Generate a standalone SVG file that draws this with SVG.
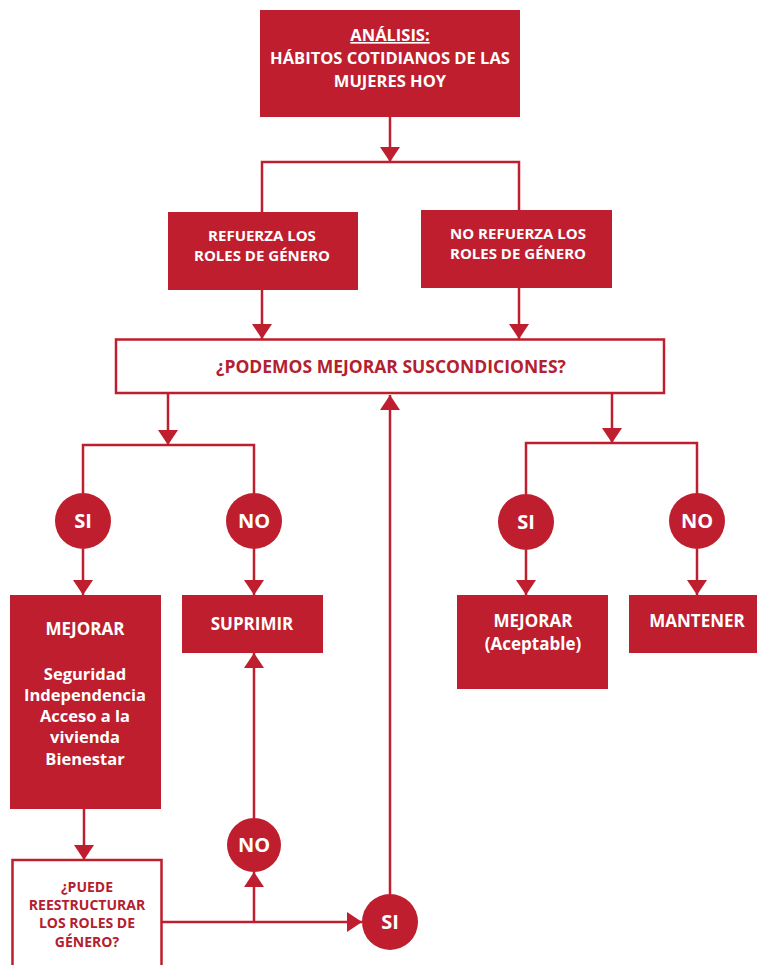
<svg xmlns="http://www.w3.org/2000/svg" width="757" height="965" viewBox="0 0 757 965">
<defs>
<marker id="arr" viewBox="0 0 15 20" refX="15" refY="10" markerWidth="15" markerHeight="20" orient="auto" markerUnits="userSpaceOnUse">
<path d="M0,0 L15,10 L0,20 z" fill="#be1e2d"/>
</marker>
</defs>
<style>
.fill{fill:#be1e2d;}
.outline{fill:#ffffff;stroke:#be1e2d;stroke-width:2.5;}
.wt{fill:#ffffff;font-family:"Open Sans","Liberation Sans",sans-serif;font-weight:bold;text-anchor:middle;}
.rt{fill:#b3202e;font-family:"Open Sans","Liberation Sans",sans-serif;font-weight:bold;text-anchor:middle;}
.ln{fill:none;stroke:#be1e2d;stroke-width:2.5;}
.la{fill:none;stroke:#be1e2d;stroke-width:2.5;marker-end:url(#arr);}
</style>
<rect width="757" height="965" fill="#ffffff"/>
<g id="connectors">
<line class="la" x1="390" y1="117" x2="390" y2="162"/>
<polyline class="ln" points="262,212 262,162 519,162 519,210"/>
<line class="la" x1="262" y1="290" x2="262" y2="339"/>
<line class="la" x1="519" y1="288" x2="519" y2="339"/>
<line class="la" x1="168" y1="393" x2="168" y2="445"/>
<polyline class="ln" points="83,493 83,445 254,445 254,493"/>
<line class="la" x1="612" y1="393" x2="612" y2="443"/>
<polyline class="ln" points="526,494 526,443 697,443 697,494"/>
<line class="la" x1="83" y1="549" x2="83" y2="595"/>
<line class="la" x1="254" y1="549" x2="254" y2="595"/>
<line class="la" x1="526" y1="550" x2="526" y2="595"/>
<line class="la" x1="697" y1="549" x2="697" y2="595"/>
<line class="la" x1="84" y1="809" x2="84" y2="860"/>
<line class="la" x1="162" y1="922" x2="362" y2="922"/>
<line class="la" x1="254" y1="922" x2="254" y2="872"/>
<line class="la" x1="254" y1="818" x2="254" y2="653"/>
<line class="la" x1="390" y1="894" x2="390" y2="395"/>
</g>
<g id="analisis">
<rect class="fill" x="260" y="10" width="260" height="107"/>
<text class="wt" x="390" y="41" font-size="16.5" text-decoration="underline">ANÁLISIS:</text>
<text class="wt" x="390" y="64" font-size="16.5">HÁBITOS COTIDIANOS DE LAS</text>
<text class="wt" x="390" y="87" font-size="16.5">MUJERES HOY</text>
</g>
<g id="refuerza">
<rect class="fill" x="168" y="212" width="190" height="78"/>
<text class="wt" x="262" y="241" font-size="15">REFUERZA LOS</text>
<text class="wt" x="262" y="261" font-size="15">ROLES DE GÉNERO</text>
</g>
<g id="no-refuerza">
<rect class="fill" x="421" y="210" width="191" height="78"/>
<text class="wt" x="518" y="239" font-size="15">NO REFUERZA LOS</text>
<text class="wt" x="518" y="259" font-size="15">ROLES DE GÉNERO</text>
</g>
<g id="podemos">
<rect class="outline" x="116" y="339.5" width="548" height="53.5"/>
<text class="rt" x="391" y="373" font-size="17.5">¿PODEMOS MEJORAR SUSCONDICIONES?</text>
</g>
<g id="si-left">
<circle class="fill" cx="83" cy="521" r="28"/>
<text class="wt" x="83" y="528" font-size="20">SI</text>
</g>
<g id="no-left">
<circle class="fill" cx="254" cy="521" r="28"/>
<text class="wt" x="254" y="528" font-size="20">NO</text>
</g>
<g id="si-right">
<circle class="fill" cx="526" cy="522" r="28"/>
<text class="wt" x="526" y="529" font-size="20">SI</text>
</g>
<g id="no-right">
<circle class="fill" cx="697" cy="521" r="28"/>
<text class="wt" x="697" y="528" font-size="20">NO</text>
</g>
<g id="mejorar">
<rect class="fill" x="10" y="595" width="151" height="214"/>
<text class="wt" x="85" y="635" font-size="17">MEJORAR</text>
<text class="wt" x="85" y="680" font-size="16.5">Seguridad</text>
<text class="wt" x="85" y="701" font-size="16.5">Independencia</text>
<text class="wt" x="85" y="722" font-size="16.5">Acceso a la</text>
<text class="wt" x="85" y="743" font-size="16.5">vivienda</text>
<text class="wt" x="85" y="765" font-size="16.5">Bienestar</text>
</g>
<g id="suprimir">
<rect class="fill" x="182" y="595" width="141" height="58"/>
<text class="wt" x="252" y="630" font-size="17">SUPRIMIR</text>
</g>
<g id="mejorar-aceptable">
<rect class="fill" x="457" y="595" width="151" height="94"/>
<text class="wt" x="533" y="627" font-size="17">MEJORAR</text>
<text class="wt" x="533" y="650" font-size="17">(Aceptable)</text>
</g>
<g id="mantener">
<rect class="fill" x="629" y="595" width="130" height="58"/>
<text class="wt" x="697" y="627" font-size="17">MANTENER</text>
</g>
<g id="puede">
<rect class="outline" x="12.5" y="860" width="149" height="110"/>
<text class="rt" x="87" y="892" font-size="14">¿PUEDE</text>
<text class="rt" x="87" y="910" font-size="14">REESTRUCTURAR</text>
<text class="rt" x="87" y="928" font-size="14">LOS ROLES DE</text>
<text class="rt" x="87" y="947" font-size="14">GÉNERO?</text>
</g>
<g id="no-bottom">
<circle class="fill" cx="254" cy="845" r="27"/>
<text class="wt" x="254" y="852" font-size="20">NO</text>
</g>
<g id="si-bottom">
<circle class="fill" cx="390" cy="922" r="28"/>
<text class="wt" x="390" y="929" font-size="20">SI</text>
</g>
</svg>
